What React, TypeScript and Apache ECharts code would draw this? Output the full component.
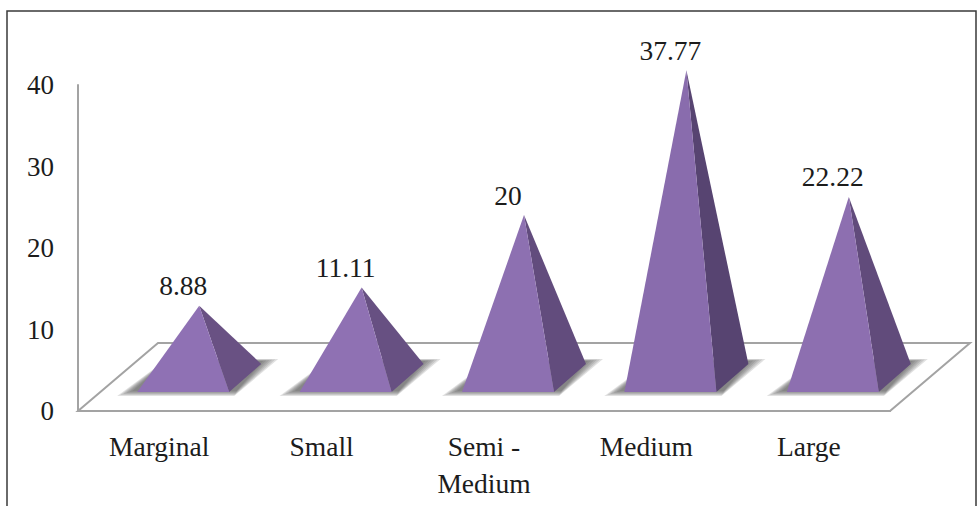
import React, { useEffect, useRef } from "react";
import * as echarts from "echarts";

const categories = ["Marginal", "Small", "Semi -\nMedium", "Medium", "Large"];
const shares = [8.88, 11.11, 20, 37.77, 22.22];
const shareLabels = ["8.88", "11.11", "20", "37.77", "22.22"];
const yTicks = [0, 10, 20, 30, 40];

const FONT = '"Liberation Serif", "Times New Roman", serif';
const TEXT = "#1c1c1c";
const AXIS = "#a3a3a3";
const SHADOW_LAYERS = [5, 4, 3, 2, 1, 0];

// Steeper pyramids catch less light, so their faces shade slightly darker.
function shade(low: number[], high: number[], value: number) {
  const t = Math.min(1, value / 40);
  const c = low.map((v, k) => Math.round(v + (high[k] - v) * t));
  return `rgb(${c[0]},${c[1]},${c[2]})`;
}

// Draws one pyramid standing on the slanted floor: soft contact shadow, then side and front faces.
function renderPyramid(params: any, api: any) {
  const i = api.value(0);
  const value = api.value(1);
  const [cx, y0] = api.coord([i, 0]);
  const [, yv] = api.coord([i, value]);
  const frontY = y0 - 19;
  const backY = y0 - 47;
  const apexX = cx + 40;
  const apexY = yv - 33;
  const frontL = cx - 22;
  const frontR = cx + 70;
  const backR = cx + 102;

  // The soft edge is built from stacked translucent outlines, each inset a little further.
  const shadow = SHADOW_LAYERS.map((n) => ({
    type: "polygon",
    shape: {
      points: [
        [cx - 42 + n * 3, y0 - 15 - n],
        [cx + 75 + n * 0.5, y0 - 15 - n],
        [cx + 119 - n * 3, y0 - 52 + n * 0.4],
        [cx + 8, y0 - 52 + n * 0.4],
      ],
    },
    style: { fill: "#4c4c4c", opacity: 0.17 },
  }));

  return {
    type: "group",
    children: [
      ...shadow,
      {
        type: "polygon",
        shape: { points: [[apexX, apexY], [frontR, frontY], [backR, backY]] },
        style: { fill: shade([110, 85, 137], [86, 67, 112], value) },
      },
      {
        type: "polygon",
        shape: { points: [[apexX, apexY], [frontL, frontY], [frontR, frontY]] },
        style: { fill: shade([145, 115, 182], [137, 108, 172], value) },
      },
      {
        type: "text",
        x: cx + 24,
        y: apexY - 20,
        style: {
          text: shareLabels[i],
          font: `27.5px ${FONT}`,
          fill: TEXT,
          align: "center",
          verticalAlign: "middle",
        },
      },
    ],
  };
}

export default function App() {
  const ref = useRef<HTMLDivElement>(null);

  useEffect(() => {
    document.body.style.margin = "0";
    const chart = echarts.init(ref.current, undefined, { renderer: "svg" });
    chart.setOption({
      animation: false,
      backgroundColor: "#ffffff",
      grid: { left: 78, right: 88, top: 85, bottom: 95 },
      xAxis: {
        type: "category",
        data: categories,
        axisLine: { lineStyle: { color: AXIS, width: 2 } },
        axisTick: { show: false },
        axisLabel: {
          interval: 0,
          margin: 17,
          fontFamily: FONT,
          fontSize: 27.5,
          color: TEXT,
          lineHeight: 37,
        },
      },
      yAxis: {
        type: "value",
        min: yTicks[0],
        max: yTicks[yTicks.length - 1],
        interval: 10,
        splitLine: { show: false },
        axisTick: { show: false },
        axisLine: { show: true, lineStyle: { color: AXIS, width: 2 } },
        axisLabel: {
          margin: 24,
          fontFamily: FONT,
          fontSize: 27,
          color: TEXT,
        },
      },
      graphic: [
        {
          type: "rect",
          z: 0,
          silent: true,
          shape: { x: 7, y: 11, width: 969, height: 530 },
          style: { fill: "#ffffff", stroke: "#3a3a3a", lineWidth: 1.5 },
        },
        {
          type: "polygon",
          z: 1,
          silent: true,
          shape: { points: [[78, 411], [158, 343], [970, 343], [890, 411]] },
          style: { fill: "#ffffff", stroke: AXIS, lineWidth: 2 },
        },
      ],
      series: [
        {
          type: "custom",
          z: 5,
          clip: false,
          renderItem: renderPyramid,
          encode: { x: 0, y: 1 },
          data: shares.map((v, i) => [i, v]),
        },
      ],
    });
    return () => chart.dispose();
  }, []);

  return <div ref={ref} style={{ width: 978, height: 506 }} />;
}
